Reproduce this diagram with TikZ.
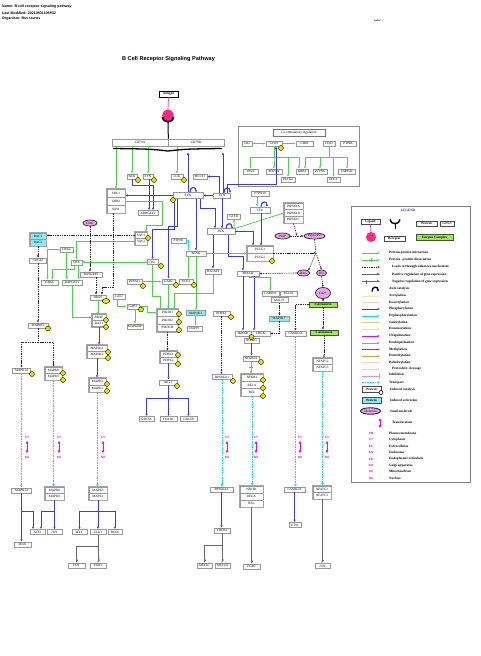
\documentclass[tikz,border=0pt]{standalone}
\usepackage{fontspec}
\setmainfont{Liberation Serif}
\newfontfamily\hsans{Liberation Sans}
\usetikzlibrary{arrows.meta,calc,fit,shapes.geometric}
\definecolor{grn}{RGB}{70,215,70}
\definecolor{blu}{RGB}{55,55,245}
\definecolor{cyn}{RGB}{0,225,235}
\definecolor{mag}{RGB}{240,0,240}
\definecolor{pinkc}{RGB}{250,40,130}
\definecolor{yel}{RGB}{235,225,0}
\definecolor{ecgreen}{RGB}{150,240,60}
\definecolor{cyanfill}{RGB}{140,235,245}
\definecolor{smpink}{RGB}{235,165,235}
\definecolor{legblue}{RGB}{40,40,210}
\newcommand\gfont{\fontsize{3.3}{3.7}\selectfont}
\newcommand\lfont{\fontsize{3.4}{3.8}\selectfont\bfseries}
\newcommand\gnode[5][]{\node[gbox,minimum width=#4pt,#1] (#2) at (#3) {#5};}
\newcommand\phos[2]{\node[ph] (#1) at (#2) {};}
\newcommand\legrow[5]{\coordinate (#1a) at (362,#2); \coordinate (#1b) at (380,#2);
  \draw[#3] (#1a) -- (#1b); \node[font=\lfont,anchor=west,inner sep=0pt] (#1t) at (#4,#2) {#5};}
\begin{document}
\begin{tikzpicture}[x=1pt,y=-1pt,
  gbox/.style={draw=black!40,fill=white,line width=0.7pt,inner sep=0pt,minimum height=5pt,font=\gfont},
  grp/.style={draw=black!35,line width=1pt,inner sep=0.3pt},
  ph/.style={circle,draw=black,fill=yel,line width=0.4pt,minimum size=5pt,inner sep=0pt},
  sm/.style={ellipse,draw=black!85,fill=smpink,line width=0.7pt,inner sep=0pt,font=\gfont},
  arrtip/.style={-{Latex[length=2.4pt,width=2.2pt]}},
  ga/.style={draw=grn,line width=0.75pt,arrtip},
  gl/.style={draw=grn,line width=0.75pt},
  ba/.style={draw=blu,line width=0.75pt,arrtip},
  ca/.style={draw=cyn,line width=0.75pt,arrtip},
  da/.style={draw=black!85,line width=0.6pt,dash pattern=on 1.4pt off 0.9pt,-{Latex[length=2.2pt,width=2pt]}},
  dl/.style={draw=black!85,line width=0.6pt,dash pattern=on 1.4pt off 0.9pt},
  tr/.style={draw=cyn,line width=0.85pt,dash pattern=on 1.5pt off 1pt,-{Latex[length=2.6pt,width=2.4pt]}},
  gr/.style={draw=black!60,line width=0.85pt,-{Straight Barb[harpoon,length=1.8pt,width=3pt]}},
  autoc/.style={draw=blu,line width=1.1pt,-{Latex[length=1.8pt,width=2.4pt]}},
  locl/.style={text=mag,font=\hsans\bfseries\fontsize{3}{3.4}\selectfont,inner sep=0pt},
  ptm/.style={line width=0.9pt,arrtip},
  dbl/.style={draw=mag,line width=0.8pt,{Latex[length=2.8pt,width=3pt]}-{Latex[length=2.8pt,width=3pt]}},
]
\fill[white] (0,0) rectangle (480,656);
\useasboundingbox (0,0) rectangle (480,656);

% ---------- header ----------
\node[anchor=west,inner sep=0pt,font=\hsans\bfseries\fontsize{3.6}{4.2}\selectfont] (h1) at (2,7) {Name: B cell receptor signaling pathway};
\node[anchor=west,inner sep=0pt,font=\hsans\bfseries\fontsize{3.6}{4.2}\selectfont] (h2) at (2,13) {Last Modified: 20210831105932};
\node[anchor=west,inner sep=0pt,font=\hsans\bfseries\fontsize{3.6}{4.2}\selectfont] (h3) at (2,19) {Organism: Bos taurus};
\node[inner sep=0pt,font=\hsans\fontsize{2.8}{3.2}\selectfont] (lab) at (377.5,20) {Label};
\node[inner sep=0pt,font=\hsans\bfseries\fontsize{5.6}{6.5}\selectfont] (title) at (168.5,59) {B Cell Receptor Signaling Pathway};

% ---------- receptor ----------
\node[draw=black,line width=0.7pt,fill=white,minimum width=19pt,minimum height=6pt,inner sep=0pt,font=\gfont\bfseries] (antigen) at (168.5,94) {Antigen};
\node[circle,fill=pinkc,minimum size=11.5pt,inner sep=0pt] (lig) at (168,115.5) {};
\draw[pinkc!80,line width=0.8pt] (antigen.south) -- (lig.north);
\gnode[minimum height=7pt]{CD79A}{140,142.5}{56}{CD79A}
\gnode[minimum height=7pt]{CD79B}{196,142.5}{56}{CD79B}
\draw[line width=1.6pt] (162.5,117) .. controls (163,123.5) and (173,123.5) .. (173.5,117);
\draw[line width=1pt] (168,122) -- (CD79A.north east);

% ---------- co-stimulatory ----------
\node[draw=black!45,line width=0.6pt,minimum width=121pt,minimum height=60pt,inner sep=0pt] (costim) at (298.5,156.5) {};
\node[gbox,draw=black!55,minimum width=52pt,minimum height=7pt,font=\fontsize{3.4}{3.8}\selectfont] (costitle) at (299,132.5) {Co-stimulatory regulation};
\gnode{CR2}{247,143.5}{10}{CR2}
\gnode{CD19}{274,143.5}{16}{CD19}
\gnode{CD81}{304.5,143.5}{17}{CD81}
\gnode{CD22}{329,143.5}{12}{CD22}
\gnode{PTPRC}{348.5,143.5}{16}{PTPRC}
\gnode{VAV1c}{250.5,171.5}{15}{VAV1}
\gnode{PIK3R1c}{274,171.5}{16}{PIK3R1}
\gnode{PLCG2c}{288,179.5}{14}{PLCG2}
\gnode{GRB2c}{302,171.5}{12}{GRB2}
\gnode{PTPN6c}{320,171.5}{14}{PTPN6}
\gnode{SHC1c}{333.5,179.5}{13}{SHC1}
\gnode{INPP5D}{347,171.5}{17}{INPP5D}
\draw[ga] (CR2.east) -- (CD19.west);
\draw[ga] (CD19.east) -- (CD81.west);
\draw[ga] (CD19.south) -- ++(0,11) -| (VAV1c.north);
\draw[ga] (CD19.south) -- ++(0,11) -| (PIK3R1c.north);
\draw[ga] (CD19.south) -- ++(0,11) -| (PLCG2c.north);
\draw[ga] (CD19.south) -- ++(0,11) -| ($(GRB2c.north)+(-3,0)$);
\draw[ga] (CD22.south) -- ++(0,11) -| ($(GRB2c.north)+(3,0)$);
\draw[ga] (CD22.south) -- ++(0,11) -| (PTPN6c.north);
\draw[ga] (CD22.south) -- ++(0,11) -| (SHC1c.north);
\draw[ga] (CD22.south) -- ++(0,11) -| (INPP5D.north);

% ---------- upper kinases ----------
\gnode{BLK}{132,176.5}{10}{BLK}
\gnode{FYN}{148,176.5}{10}{FYN}
\gnode{LCK}{177,176.5}{12}{LCK}
\gnode{HCLS1}{200,176.5}{14}{HCLS1}
\gnode[minimum height=6pt]{SYK}{188,195.5}{30}{SYK}
\gnode{LYN}{222,195.5}{17}{LYN}
\gnode[minimum height=8pt]{SHC1}{116,193}{18}{SHC1}
\gnode[minimum height=8pt]{GRB2}{116,201}{18}{GRB2}
\gnode[minimum height=8pt]{SOS1}{116,209}{18}{SOS1}
\node[grp,fit=(SHC1)(SOS1)] (grpSHC) {};
\gnode{ARH}{148,213}{20}{ARHGEF2}
\gnode{PTPN18}{260,193.5}{18}{PTPN18}
\gnode[minimum height=6pt]{TEC}{260,210}{20}{TEC}
\gnode[minimum height=6.7pt]{PIP5K1A}{293.5,206.3}{19}{PIP5K1A}
\gnode[minimum height=6.7pt]{PIP5K1B}{293.5,213}{19}{PIP5K1B}
\gnode[minimum height=6.7pt]{PIP5K1C}{293.5,219.7}{19}{PIP5K1C}
\node[grp,fit=(PIP5K1A)(PIP5K1C)] (grpPIP) {};
\gnode{GTF2I}{234,216.5}{13}{GTF2I}
\gnode[minimum height=5.5pt]{BTK}{221,231.5}{28}{BTK}

\draw[ga] (CD79A.south -| SHC1) -- (SHC1.north);
\draw[ga] (CD79A.south -| BLK) -- (BLK.north);
\draw[ga] (CD79A.south -| FYN) -- (FYN.north);
\draw[ga] (CD79B.south -| LCK) -- (LCK.north);
\draw[ba] (SYK.north) -- ($(SYK.north |- CD79B.south)+(0,6)$);
\draw[ba] ($(LYN.north)+(1,0)$) -- ($(LYN.north |- CD79B.south)+(1,6)$);
\draw[ba] ($(LYN.north)+(5,0)$) |- ($(CD19.south)+(2,38)$) -- ($(CD19.south)+(2,0)$);
\draw[ba] ($(LYN.north)+(-3,0)$) |- (HCLS1.east);
\draw[ba] (LYN.west) -- (SYK.east);
\draw[ba] (SYK.west) -- (SYK.west -| SHC1.east);
\draw[ba] ($(FYN.south)+(1,0)$) -- ($(FYN.south |- ARH.north)+(1,0)$);
\draw[ba] (BLK.south) |- ($(ARH.north)+(5,-25)$) -- ($(ARH.north)+(5,0)$);
% membrane
\draw[line width=1.3pt] (113,148.5) .. controls (150,149) .. (168,151) .. controls (186,149) .. (222,148.5);

\draw[autoc] ($(SYK.north)+(2,0)$) .. controls +(0,-6) and +(0,-6) .. ($(SYK.north)+(8,0)$);
\draw[autoc] ($(LYN.north)+(2,0)$) .. controls +(0,-6) and +(0,-6) .. ($(LYN.north)+(8,0)$);
\draw[autoc] ($(TEC.north)+(1,0)$) .. controls +(0,-6) and +(0,-6) .. ($(TEC.north)+(7,0)$);
\draw[autoc] ($(BTK.north)+(5,0)$) .. controls +(0,-6) and +(0,-6) .. ($(BTK.north)+(11,0)$);

\draw[ca] ($(PTPN18.south)+(-3,0)$) -- ($(TEC.north)+(-3,0)$);
\draw[ba] ($(SYK.south east)+(-3,0)$) |- ($(BTK.north)+(-6,-20)$) -- ($(BTK.north)+(-6,0)$);
\draw[ba] (LYN.south) -- (LYN.south |- BTK.north);
\draw[ga] (BTK.north east) -- (PIP5K1B.west);
\draw[ga] ($(BTK.north east)+(-1,0)$) -- (GTF2I.south);

% ---------- PLCG / second messengers ----------
\gnode[minimum height=7.5pt]{PLCG1}{260,249.8}{26}{PLCG1}
\gnode[minimum height=7.5pt]{PLCG2}{260,257.3}{26}{PLCG2}
\node[grp,fit=(PLCG1)(PLCG2)] (grpPLC) {};
\gnode{PIK3AP1}{213,271.5}{16}{PIK3AP1}
\gnode{PRKCB}{248,273.5}{22}{PRKCB}
\node[sm,minimum width=15pt,minimum height=6pt] (PI4P) at (282.5,236) {PI4P};
\node[sm,minimum width=21pt,minimum height=6pt] (PIP2) at (314.5,236) {PI(4,5)P2};
\node[sm,minimum width=13pt,minimum height=6pt] (DAG2) at (303.5,273) {DAG};
\node[sm,minimum width=10pt,minimum height=6pt] (IP3) at (321.5,273) {IP3};
\node[sm,minimum width=15pt,minimum height=11pt] (Ca) at (323,293) {Ca2+};
\gnode[draw=black!70,fill=ecgreen,font=\gfont\bfseries]{Calc1}{323,304.5}{28}{Calcineurin}
\gnode[draw=black!70,fill=ecgreen,font=\gfont\bfseries]{Calc2}{324,332.5}{28}{Calcineurin}
\gnode{CARD11}{270.5,293.5}{17}{CARD11}
\gnode{BCL10}{288.5,293.5}{17}{BCL10}
\gnode{MALT1}{279.5,300}{17}{MALT1}
\gnode[fill=cyanfill]{MAP3K7}{279,318.5}{20}{MAP3K7}
\gnode{IKBKB}{243,333.5}{16}{IKBKB}
\gnode{CHUK}{260.5,333.5}{19}{CHUK}
\gnode{IKBKG}{251.5,340.5}{15}{IKBKG}
\gnode{CAMK2A}{295.5,333.5}{21}{CAMK2A}
\gnode[minimum height=6.5pt]{NFATC2}{322.5,361.3}{19}{NFATC2}
\gnode[minimum height=6.5pt]{NFATC3}{322.5,367.8}{19}{NFATC3}
\node[grp,fit=(NFATC2)(NFATC3)] (grpNFAT) {};
\gnode{NFKBIA}{251,358.5}{16}{NFKBIA}
\gnode[minimum height=7.3pt]{NFKB1}{252,377.7}{22}{NFKB1}
\gnode[minimum height=7.3pt]{RELA}{252,385}{22}{RELA}
\gnode[minimum height=7.3pt]{REL}{252,392.3}{22}{REL}
\node[grp,fit=(NFKB1)(REL)] (grpNFKB) {};
\gnode{PDK}{221.5,313.5}{17}{PDPK1}
\gnode{RPS6KA1}{222,377}{20}{RPS6KA1}

\draw[ba] ($(TEC.south)+(1,0)$) -- ($(TEC.south |- PLCG1.north)+(1,0)$);
\draw[ba] (BTK.east) -| ($(PLCG1.north)+(-7,0)$);
\draw[ba] (BTK.south -| PIK3AP1) -- (PIK3AP1.north);
\draw[ba] ($(BTK.south)+(7,0)$) |- ($(PRKCB.north)+(-5,-14)$) -- ($(PRKCB.north)+(-5,0)$);
\draw[ba] ($(PRKCB.south)+(-5,0)$) -- ($(PRKCB.south |- IKBKB.north)+(-5,0)$);
\draw[ba] ($(PRKCB.south)+(6,0)$) -- ($(PRKCB.south |- CHUK.north)+(6,0)$);
\draw[ga] ($(PRKCB.south)+(1,0)$) |- ($(CARD11.north)+(0,-13)$) -- (CARD11.north);
\coordinate (J) at (316,253);
\draw[da] (PLCG1.east |- J) -- (J);
\draw[dl] (PIP2.south) -- (J);
\draw[da] (J) -- (DAG2.north east);
\draw[da] (J) -- (IP3.north);
\draw[da] (PI4P.east) -- (PIP2.west);
\draw[da] (PIP5K1C.south) -- ($(PI4P.east)!0.5!(PIP2.west)$);
\draw[da] (DAG2.west) -- (PRKCB.east);
\draw[da] (IP3.south) -- (Ca.north);
\draw[da] (Ca.south) -- (Calc1.north);
\draw[da] (Calc1.west) -| (CAMK2A.north);
\draw[da] (Calc1.south) -- (Calc1.south |- Calc2.north);
\draw[da] (Calc2.south) -- (Calc2.south |- NFATC2.north);
\draw[da] (MALT1.south) -- (MALT1.south |- MAP3K7.north);
\draw[da] (MAP3K7.south) |- (CHUK.east);
\draw[ba] (IKBKG.south) -- (IKBKG.south |- NFKBIA.north);
\draw[ga] (NFKBIA.south) -- (NFKBIA.south |- NFKB1.north);
\draw[grn,line width=0.6pt] ($(NFKBIA.south)!0.5!(NFKBIA.south |- NFKB1.north)$) +(-1.6,0) -- +(1.6,0);
\draw[da] (PDK.south) -- (PDK.south |- RPS6KA1.north);

% ---------- middle left ----------
\gnode[minimum height=6.5pt]{VAV1}{141,235.3}{12}{VAV1}
\gnode[minimum height=6.5pt]{VAV2}{141,241.8}{12}{VAV2}
\node[grp,fit=(VAV1)(VAV2)] (grpVAV) {};
\gnode[minimum height=6.5pt,fill=cyanfill]{RAC1}{38,236.3}{16}{RAC1}
\gnode[minimum height=6.5pt,fill=cyanfill]{RAC2}{38,242.8}{16}{RAC2}
\node[grp,fit=(RAC1)(RAC2)] (grpRAC) {};
\gnode{CDC42}{38,260.5}{17}{CDC42}
\node[sm,minimum width=14pt,minimum height=6pt] (DAG1) at (90,223) {DAG};
\gnode{CRKL}{66.5,249.5}{13}{CRKL}
\gnode{CRK}{76.5,262.5}{11}{CRK}
\gnode{RASGRP3}{91,274.5}{22}{RASGRP3}
\gnode{TIRGL}{49.5,282.5}{17}{TIRGL}
\gnode{RAPGEF1}{72,282.5}{20}{RAPGEF1}
\gnode{HRAS}{98,297.5}{16}{HRAS}
\gnode{LAT2}{119,296.5}{12}{LAT2}
\gnode[minimum height=6pt]{BRAF}{99,317.5}{14}{BRAF}
\gnode[minimum height=6pt]{RAF1}{99,323.5}{14}{RAF1}
\node[grp,fit=(BRAF)(RAF1)] (grpRAF) {};
\gnode{MAP3K1}{38,325.5}{20}{MAP3K1}
\gnode{CBL}{152.5,262}{11}{CBL}
\gnode{PTPN6b}{178.5,240.5}{15}{PTPN6}
\gnode{BLNK}{196,253.5}{20}{BLNK}
\gnode{PTPN11}{134.5,281.5}{15}{PTPN11}
\gnode{GAB2}{168.5,281.5}{13}{GAB2}
\gnode{NCK1}{186,281.5}{14}{NCK1}
\gnode{GAB1}{133,306.5}{12}{GAB1}
\gnode[minimum height=7.5pt]{PIK3R1}{167.5,312.8}{21}{PIK3R1}
\gnode[minimum height=7.5pt]{PIK3R2}{167.5,320.3}{21}{PIK3R2}
\gnode[minimum height=7.5pt]{PIK3CD}{167.5,327.8}{21}{PIK3CD}
\node[grp,fit=(PIK3R1)(PIK3CD)] (grpPIK) {};
\gnode{MAPKx}{135,326.5}{16}{MAPK8IP}
\gnode[fill=cyanfill]{MAP4K1}{195.5,313}{19}{MAP4K1}
\gnode{DAPP1}{194.5,328.5}{15}{DAPP1}

\draw[ga] (GRB2.east) -- ++(37,0) |- ($(VAV1.north)+(5,-6)$) -- ($(VAV1.north)+(5,0)$);
\draw[da] (VAV1.west) -- (VAV1.west -| RAC1.east);
\draw[ga] (VAV2.west) -| (CRK.north);
\draw[da] (RAC2.south) -- (RAC2.south |- CDC42.north);
\draw[da] (CDC42.south) -- (CDC42.south |- MAP3K1.north);
\draw[ga] (CBL.west) -- (CBL.west -| CRK.east);
\draw[ga] (CRKL.west) -| ($(TIRGL.north)+(-2,0)$);
\draw[ga] ($(CRK.south)+(-2,0)$) |- ($(TIRGL.north)+(3,-10)$) -- ($(TIRGL.north)+(3,0)$);
\draw[ga] (CRKL.south) -- (CRKL.south |- RAPGEF1.north);
\draw[ga] ($(CRK.south)+(2,0)$) -- ($(CRK.south |- RAPGEF1.north)+(2,0)$);
\draw[ga] (RAPGEF1.south) |- (BRAF.west);
\draw[ga] (HRAS.south) -- (HRAS.south |- BRAF.north);
\draw[da] (DAG1.south) -- (DAG1.south |- RASGRP3.north);
\draw[da] ($(RASGRP3.south)+(5,0)$) -- ($(RASGRP3.south |- HRAS.north)+(5,0)$);
\draw[da] ($(SOS1.south)+(-3,0)$) |- ($(HRAS.north)+(4,-7)$) -- ($(HRAS.north)+(4,0)$);
\draw[ga] ($(LAT2.south)+(-2,0)$) |- (GAB1.west);
\draw[ga] (PTPN11.east) -- (GAB2.west);
\draw[ga] (GAB1.east) -- ++(8,0) |- (PIK3R1.west);
\draw[ga] (GAB1.south -| MAPKx) -- (MAPKx.north);
\draw[ga] (GAB2.south) -- (GAB2.south |- PIK3R1.north);
\draw[ga] (CBL.south) |- ($(PIK3R1.north)+(-7,-12)$) -- ($(PIK3R1.north)+(-7,0)$);
\draw[ga] (PIK3AP1.south) |- ($(PIK3R1.north)+(7,-15)$) -- ($(PIK3R1.north)+(7,0)$);
\draw[ba] ($(SYK.south)+(8,0)$) -- ($(SYK.south |- BLNK.north)+(8,0)$);
\draw[ba] ($(SYK.south west)+(2,0)$) |- ($(CBL.north)+(0,-30)$) -- (CBL.north);
\draw[ba] ($(SYK.south west)+(5,0)$) |- ($(GAB2.north)+(0,-52)$) -- (GAB2.north);
\draw[ca] (PTPN6b.east) -| ($(BLNK.north west)+(3,0)$);
\draw[ga] (BLNK.east) -- (BLNK.east -| PLCG2.west);
\draw[ga] (BLNK.south) -- (BLNK.south |- MAP4K1.north);
\draw[ga] (MAP4K1.south) -- (MAP4K1.south |- DAPP1.north);
\draw[ga] ($(BLNK.south west)+(3,0)$) -- ($(BLNK.south west |- NCK1.north)+(3,0)$);

% ---------- MAPK cascades ----------
\gnode{MAPK14}{21.5,370.5}{18}{MAPK14}
\gnode[minimum height=6.5pt]{MAPK8}{53.5,370.3}{17}{MAPK8}
\gnode[minimum height=6.5pt]{MAPK9}{53.5,376.8}{17}{MAPK9}
\node[grp,fit=(MAPK8)(MAPK9)] (grpJNK) {};
\gnode[minimum height=6.5pt]{MAP2K1}{97,348.3}{20}{MAP2K1}
\gnode[minimum height=6.5pt]{MAP2K2}{97,354.8}{20}{MAP2K2}
\node[grp,fit=(MAP2K1)(MAP2K2)] (grpMEK) {};
\gnode[minimum height=7pt]{MAPK3}{97.5,381.5}{17}{MAPK3}
\gnode[minimum height=7pt]{MAPK1}{97.5,388.5}{17}{MAPK1}
\node[grp,fit=(MAPK3)(MAPK1)] (grpERK) {};
\gnode[minimum height=6pt]{PDPK1}{168.5,354}{17}{PDPK1}
\gnode[minimum height=6pt]{PDPK2}{168.5,360}{17}{PDPK2}
\node[grp,fit=(PDPK1)(PDPK2)] (grpPDK) {};
\gnode{AKT1}{168,382.5}{18}{AKT1}
\gnode{GSK3A}{146.5,419}{15}{GSK3A}
\gnode{FOXO1}{168.5,419}{17}{FOXO1}
\gnode{GSK3B}{188.5,419}{17}{GSK3B}
\draw[da] (MAP3K1.south) -- ++(0,14) -| (MAPK14.north);
\draw[da] (MAP3K1.south) -- ++(0,14) -| (MAPK8.north);
\draw[ba] (RAF1.south) -- (RAF1.south |- MAP2K1.north);
\draw[ba] (MAP2K2.south) -- (MAP2K2.south |- MAPK3.north);
\draw[da] (PIK3CD.south) -- (PIK3CD.south |- PDPK1.north);
\draw[ba] (PDPK2.south) -- (PDPK2.south |- AKT1.north);
\draw[ba] (AKT1.south) -- ++(0,13) -| (GSK3A.north);
\draw[ba] (AKT1.south) -- ++(0,13) -| (FOXO1.north);
\draw[ba] (AKT1.south) -- ++(0,13) -| (GSK3B.north);

% ---------- nucleus ----------
\gnode{MAPK14b}{21.5,490.5}{20}{MAPK14}
\gnode[minimum height=6.5pt]{MAPK8b}{54.5,490.3}{19}{MAPK8}
\gnode[minimum height=6.5pt]{MAPK9b}{54.5,496.8}{19}{MAPK9}
\node[grp,fit=(MAPK8b)(MAPK9b)] (grpJNKb) {};
\gnode[minimum height=6.5pt]{MAPK3b}{98,490.3}{18}{MAPK3}
\gnode[minimum height=6.5pt]{MAPK1b}{98,496.8}{18}{MAPK1}
\node[grp,fit=(MAPK3b)(MAPK1b)] (grpERKb) {};
\gnode{ATF2}{37.5,532}{15}{ATF2}
\gnode{JUN}{54.5,532}{15}{JUN}
\gnode{MYC}{79.5,532}{15}{MYC}
\gnode{ELK1}{98,532}{16}{ELK1}
\gnode{BCL6}{115,532}{14}{BCL6}
\gnode{MAX}{22.5,544.5}{17}{MAX}
\gnode{FOS}{76.5,565.5}{17}{FOS}
\gnode{EGR1}{98,565.5}{16}{EGR1}
\gnode{RPS6KA1b}{221.5,489.5}{23}{RPS6KA1}
\gnode{CREB1}{222,530.5}{16}{CREB1}
\gnode{MEF2C}{204.5,565.5}{15}{MEF2C}
\gnode{MEF2D}{222.5,565.5}{15}{MEF2D}
\gnode[minimum height=7pt]{NFKB1b}{251.5,489.5}{23}{NFKB1}
\gnode[minimum height=7pt]{RELAb}{251.5,496.5}{23}{RELA}
\gnode[minimum height=7pt]{RELb}{251.5,503.5}{23}{REL}
\node[grp,fit=(NFKB1b)(RELb)] (grpNFKBb) {};
\gnode{EGR2}{251.5,566.5}{17}{EGR2}
\gnode{CAMK2Ab}{294.5,489.5}{21}{CAMK2A}
\gnode{ETS1}{295,525}{12}{ETS1}
\gnode[minimum height=6.5pt]{NFATC2b}{322,489.3}{18}{NFATC2}
\gnode[minimum height=6.5pt]{NFATC3b}{322,495.8}{18}{NFATC3}
\node[grp,fit=(NFATC2b)(NFATC3b)] (grpNFATb) {};
\gnode{JUNb}{322.5,566}{15}{JUN}

\draw[tr] (MAPK14.south) -- (MAPK14.south |- MAPK14b.north);
\draw[tr] (MAPK9.south) -- (MAPK9.south |- MAPK8b.north);
\draw[tr] (MAPK1.south) -- (MAPK1.south |- MAPK3b.north);
\draw[tr] (RPS6KA1.south) -- (RPS6KA1.south |- RPS6KA1b.north);
\draw[tr] (REL.south) -- (REL.south |- NFKB1b.north);
\draw[tr] (CAMK2A.south) -- (CAMK2A.south |- CAMK2Ab.north);
\draw[tr] (NFATC3.south) -- (NFATC3.south |- NFATC2b.north);
\foreach \xc/\nm in {22/a,54/b,98/c,222/d,251/e,295/f,322/g}{
  \node[locl] (cy\nm) at (\xc+5,437) {CY};
  \node[locl] (nu\nm) at (\xc+5,457) {NU};
  \draw[dbl] ($(cy\nm.south)+(0,2.5)$) -- ($(nu\nm.north)+(0,-2.5)$);
}
\draw[ba] (MAPK14b.south) -- (MAPK14b.south |- MAX.north);
\draw[ba] (MAPK14b.south) |- ($(ATF2.north)+(-4.5,-17.5)$) -- ($(ATF2.north)+(-4.5,0)$);
\draw[ba] (MAPK9b.south) |- ($(ATF2.north)+(3.5,-17.5)$) -- ($(ATF2.north)+(3.5,0)$);
\draw[ba] (MAPK9b.south) -- (MAPK9b.south |- JUN.north);
\draw[ba] (MAPK1b.south) -- ($(MAPK1b.south |- MYC.north)+(0,-17.5)$) -| (MYC.north);
\draw[ba] (MAPK1b.south) -- (MAPK1b.south |- ELK1.north);
\draw[ba] (MAPK1b.south) -- ($(MAPK1b.south |- BCL6.north)+(0,-17.5)$) -| (BCL6.north);
\draw[gr] (ELK1.south) -- ++(0,11.5) -| (FOS.north);
\draw[gr] (ELK1.south) -- (ELK1.south |- EGR1.north);
\draw[ba] (RPS6KA1b.south) -- (RPS6KA1b.south |- CREB1.north);
\draw[gr] (CREB1.south) -- ++(0,12.5) -| (MEF2C.north);
\draw[gr] (CREB1.south) -- (CREB1.south |- MEF2D.north);
\draw[gr] (RELb.south) -- (RELb.south |- EGR2.north);
\draw[ba] (CAMK2Ab.south) -- (CAMK2Ab.south |- ETS1.north);
\draw[gr] (NFATC3b.south) -- (NFATC3b.south |- JUNb.north);

% ---------- phosphorylation marks ----------
\phos{p1}{138,180}\phos{p2}{154,180}\phos{p3}{184,180}\phos{p4}{173,200}
\phos{p5}{281,148}\phos{p6}{148,238}\phos{p7}{161,266}\phos{p8}{143,286}
\phos{p9}{176,285}\phos{p10}{194,285}\phos{p11}{141,309.5}
\phos{p12}{179,314}\phos{p13}{179,322}\phos{p14}{179,330}
\node[ellipse,draw=black,fill=yel,line width=0.4pt,minimum width=7.5pt,minimum height=5pt,inner sep=0pt] (p15) at (106,301) {};
\phos{p16}{106,320}\phos{p17}{106,327}\phos{p18}{48,328.5}\phos{p19}{272,261}
\phos{p20}{231,317}\phos{p21}{251.5,337}\phos{p22}{261,362}
\phos{p23}{263,380}\phos{p24}{263,388}\phos{p25}{263,396}\phos{p26}{233,381}
\phos{p27}{32,374}\phos{p28}{63,373}\phos{p29}{63,380}\phos{p30}{108,352}
\phos{p31}{108,358}\phos{p32}{107,384}\phos{p33}{107,391}\phos{p34}{178,355}
\phos{p35}{178,364}\phos{p36}{177,386}

% ---------- legend ----------
\node[draw=black!50,line width=0.6pt,minimum width=119pt,minimum height=276pt,inner sep=0pt,anchor=north west] (legend) at (351,206) {};
\node[font=\lfont,text=legblue,inner sep=0pt] (legt) at (408,210.5) {LEGEND};
\node[gbox,draw=black!70,minimum width=19pt,font=\gfont\bfseries] (lgLig) at (370.5,222) {Ligand};
\draw[pinkc!80,line width=0.8pt] (lgLig.south) -- (371,233);
\node[circle,fill=pinkc,minimum size=10pt,inner sep=0pt] (lgCirc) at (371,237) {};
\gnode[draw=black!70,font=\gfont\bfseries]{lgRec}{394.5,238.5}{21}{Receptor}
\draw[line width=1.4pt] (390,219.5) .. controls (390.5,225) and (399.5,225) .. (400,219.5);
\draw[line width=1pt] (395,224) -- (395,229);
\gnode[draw=black!70,font=\gfont\bfseries]{lgProt}{426.5,223.5}{21}{Protein}
\gnode[draw=black!70]{lgRNA}{447,223.5}{14}{mRNA}
\gnode[draw=black!70,fill=ecgreen,minimum height=6.5pt,font=\gfont\bfseries]{lgEnz}{434.5,237.5}{37}{Enzyme Complex}
\legrow{l1}{253}{ga}{389}{Protein-protein interaction}
\legrow{l2}{260}{ga}{389}{Protein - protein dissociation}
\draw[grn,line width=0.6pt] (371,258.2) -- (371,261.8);
\legrow{l3}{267}{da}{392}{Leads to through unknown mechanism}
\legrow{l4}{274.5}{gr}{392}{Positive regulation of gene expression}
\legrow{l5}{281.5}{gr}{392}{Negative regulation of gene expression}
\draw[black!60,line width=0.6pt] (366,279.5) -- (366,283.5);
\draw[line width=1.3pt,-{Latex[length=1.8pt,width=2.4pt]}] (372,291.5) .. controls (372,286) and (378,286) .. (378,291.5);
\node[font=\lfont,anchor=west,inner sep=0pt] (l6t) at (389,289) {Auto catalysis};
\legrow{l7}{296}{ptm,draw={rgb,255:red,255;green,225;blue,170}}{389}{Acetylation}
\legrow{l8}{302.5}{ptm,draw={rgb,255:red,255;green,212;blue,185}}{389}{Deacetylation}
\legrow{l9}{309}{ptm,draw=blu}{389}{Phosphorylation}
\legrow{l10}{316}{ptm,draw=cyn}{389}{Dephosphorylation}
\legrow{l11}{322.5}{ptm,draw={rgb,255:red,215;green,215;blue,110}}{389}{Sumoylation}
\legrow{l12}{329}{ptm,draw={rgb,255:red,235;green,235;blue,60}}{389}{Desumoylation}
\legrow{l13}{336}{ptm,draw=mag}{389}{Ubiquitination}
\legrow{l14}{343}{ptm,draw={rgb,255:red,225;green,110;blue,225}}{389}{Deubiquitination}
\legrow{l15}{349.5}{ptm,draw={rgb,255:red,190;green,50;blue,50}}{389}{Methylation}
\legrow{l16}{356}{ptm,draw={rgb,255:red,200;green,165;blue,50}}{389}{Demethylation}
\legrow{l17}{362.5}{ptm,draw={rgb,255:red,255;green,205;blue,205}}{389}{Palmitoylation}
\legrow{l18}{369}{ptm,draw={rgb,255:red,215;green,215;blue,215}}{392}{Proteolytic cleavage}
\coordinate (l19a) at (362,376); \coordinate (l19b) at (380,376);
\draw[line width=0.9pt,draw={rgb,255:red,255;green,140;blue,180},-{Bar[width=6pt]}] (l19a) -- (l19b);
\node[font=\lfont,anchor=west,inner sep=0pt] (l19t) at (389,374.5) {Inhibition};
\legrow{l20}{382.5}{tr}{389}{Transport}
\gnode[draw=black!70,minimum height=6pt,font=\gfont\bfseries]{lgIC}{371.5,389}{19}{Protein}
\node[circle,draw=black,line width=0.6pt,fill=white,minimum size=4pt,inner sep=0pt] (lgICc) at (381,392.5) {};
\node[font=\lfont,anchor=west,inner sep=0pt] (l21t) at (390,389.5) {Induced catalysis};
\gnode[draw=black!70,fill=cyanfill,minimum height=6pt,font=\gfont\bfseries]{lgIA}{371.5,400}{19}{Protein}
\node[font=\lfont,anchor=west,inner sep=0pt] (l22t) at (390,400.5) {Induced activation};
\node[sm,minimum width=20pt,minimum height=6.5pt,line width=0.9pt] (lgSM) at (370.5,411) {Molecule};
\node[font=\lfont,anchor=west,inner sep=0pt] (l23t) at (390,411) {Small molecule};
\coordinate (l24a) at (380,418); \coordinate (l24b) at (380,428);
\draw[dbl] (l24a) -- (l24b);
\node[font=\lfont,anchor=west,inner sep=0pt] (l24t) at (392,422.5) {Translocation};
\foreach \ab/\tx/\yy/\nm in {PM/Plasma membrane/433/a,CY/Cytoplasm/439.5/b,EC/Extracellular/446/c,EN/Endosome/452.5/d,ER/Endoplasmic reticulum/459/e,GO/Golgi apparatus/465.5/f,MI/Mitochondrion/471.5/g,NU/Nucleus/478/h}{
  \node[locl] (loc\nm) at (371,\yy) {\ab};
  \node[font=\lfont,anchor=west,inner sep=0pt] (loct\nm) at (389,\yy) {\tx};
}
\end{tikzpicture}
\end{document}
